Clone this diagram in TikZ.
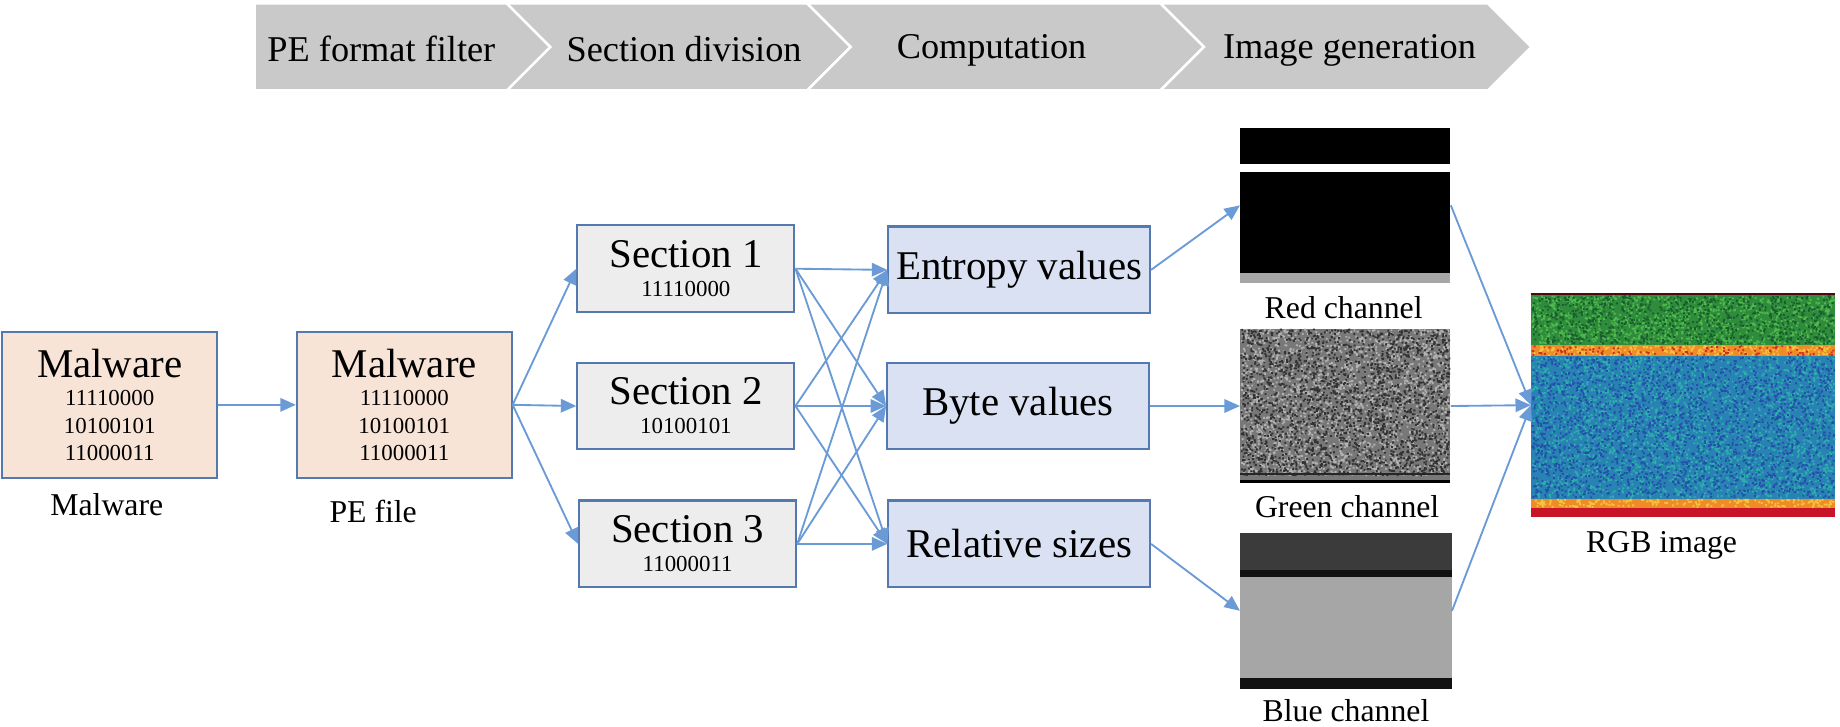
\documentclass[tikz,border=0pt]{standalone}
\usepackage{fontspec}
\setmainfont{Liberation Serif}
\usetikzlibrary{arrows.meta}
\definecolor{linkblue}{RGB}{106,155,214}
\definecolor{edgeblue}{RGB}{84,120,176}
\definecolor{peach}{RGB}{248,228,214}
\definecolor{secgray}{RGB}{237,237,237}
\definecolor{compblue}{RGB}{218,225,243}
\definecolor{chevgray}{RGB}{201,201,201}
\definecolor{noisegray}{RGB}{120,120,120}
\definecolor{rgbgreen}{RGB}{46,140,60}
\definecolor{rgblime}{RGB}{80,185,75}
\definecolor{rgbdkgreen}{RGB}{25,95,45}
\definecolor{rgbblue}{RGB}{40,130,180}
\definecolor{rgbteal}{RGB}{45,175,170}
\definecolor{rgbdkblue}{RGB}{35,80,170}
\definecolor{rgborange}{RGB}{240,140,40}
\definecolor{rgbyellow}{RGB}{245,195,60}
\definecolor{rgbred}{RGB}{200,20,40}
\begin{document}
\begin{tikzpicture}[x=0.2mm, y=-0.2mm,
    stagetext/.style={font=\fontsize{17.6}{20}\selectfont},
    pebox/.style={rectangle, draw=edgeblue, line width=1pt, fill=peach, inner sep=0pt,
        minimum width=36.6mm, minimum height=24.8mm, align=center, font=\fontsize{11.1}{13.3}\selectfont},
    secbox/.style={pebox, fill=secgray, minimum width=37mm, minimum height=14.8mm},
    compbox/.style={rectangle, draw=edgeblue, line width=1pt, fill=compblue, inner sep=0pt,
        minimum width=44.6mm, minimum height=14.8mm, font=\fontsize{19.8}{23}\selectfont},
    imgbox/.style={rectangle, inner sep=0pt},
    caption/.style={font=\fontsize{15.4}{18}\selectfont},
    link/.style={draw=linkblue, line width=0.9pt, -{Triangle[length=7.5pt, width=6.5pt]}}]
    \useasboundingbox (0,0) rectangle (1568,619);
    \pgfmathsetseed{42}

    % stages on top
    \fill[chevgray, draw=white, line width=1.2pt] (217,3) -- (432,3) -- (469,40) -- (432,77) -- (217,77) -- cycle;
    \fill[chevgray, draw=white, line width=1.2pt] (432,3) -- (688,3) -- (725,40) -- (688,77) -- (432,77) -- (469,40) -- cycle;
    \fill[chevgray, draw=white, line width=1.2pt] (688,3) -- (989,3) -- (1026,40) -- (989,77) -- (688,77) -- (725,40) -- cycle;
    \fill[chevgray, draw=white, line width=1.2pt] (989,3) -- (1268,3) -- (1305,40) -- (1268,77) -- (989,77) -- (1026,40) -- cycle;
    \node (stage1) [stagetext] at (325,42) {PE format filter};
    \node (stage2) [stagetext] at (583,42) {Section division};
    \node (stage3) [stagetext] at (845,43) {Computation};
    \node (stage4) [stagetext] at (1150,43) {Image generation};

    % input files
    \node (malware) [pebox] at (93.5,345) {{\fontsize{19.8}{23}\selectfont Malware}\\[0.7pt]11110000\\10100101\\11000011};
    \node (pefile) [pebox] at (344.5,345) {{\fontsize{19.8}{23}\selectfont Malware}\\[0.7pt]11110000\\10100101\\11000011};
    \node (mallabel) [caption] at (91,430) {Malware};
    \node (pelabel) [caption] at (318,436) {PE file};

    % sections
    \node (sec1) [secbox] at (584.5,229) {{\fontsize{19.8}{23}\selectfont Section 1}\\[0.8pt]11110000};
    \node (sec2) [secbox] at (584.5,346) {{\fontsize{19.8}{23}\selectfont Section 2}\\[0.8pt]10100101};
    \node (sec3) [secbox] at (586,463.5) {{\fontsize{19.8}{23}\selectfont Section 3}\\[0.8pt]11000011};

    % computed features
    \node (entropy) [compbox] at (868.5,230) {Entropy values};
    \node (byte) [compbox] at (867.5,346) {Byte values};
    \node (relsize) [compbox] at (868.5,463.5) {Relative sizes};

    % channel images
    \node (redimg) [imgbox, minimum width=35.8mm, minimum height=26.4mm] at (1146.5,175) {};
    \fill[black] (1057,109) rectangle (1236,140);
    \fill[black] (1057,146.6) rectangle (1236,233);
    \fill[black!35] (1057,233) rectangle (1236,241);
    \node (redlabel) [caption] at (1145,262) {Red channel};

    \node (greenimg) [imgbox, minimum width=35.8mm, minimum height=26.4mm] at (1146.5,346) {};
    \fill[noisegray] (1057,280) rectangle (1236,412);
    \fill[black!30] \foreach \k in {1,...,2200} {({1057+177.4*rnd},{280+124.4*rnd}) rectangle ++(1.6,1.6)};
    \fill[black!80] \foreach \k in {1,...,2200} {({1057+177.4*rnd},{280+124.4*rnd}) rectangle ++(1.6,1.6)};
    \fill[black!85] (1057,403) rectangle (1236,404.5);
    \fill[black] (1057,409) rectangle (1236,412);
    \node (greenlabel) [caption] at (1148,432) {Green channel};

    \node (blueimg) [imgbox, minimum width=36mm, minimum height=26.6mm] at (1147,520.5) {};
    \fill[black!77] (1057,454) rectangle (1237,486);
    \fill[black!93] (1057,486) rectangle (1237,492);
    \fill[black!35] (1057,492) rectangle (1237,578);
    \fill[black!93] (1057,578) rectangle (1237,587);
    \node (bluelabel) [caption] at (1147,606) {Blue channel};

    % merged image
    \node (rgbimg) [imgbox, minimum width=51.8mm, minimum height=38.3mm] at (1434.5,345.25) {};
    \fill[rgbred!40!black] (1305,249.5) rectangle (1564,251.5);
    \fill[rgbgreen] (1305,251.5) rectangle (1564,294);
    \fill[rgblime] \foreach \k in {1,...,1100} {({1305+257.4*rnd},{251.5+40.9*rnd}) rectangle ++(1.6,1.6)};
    \fill[rgbdkgreen] \foreach \k in {1,...,900} {({1305+257.4*rnd},{251.5+40.9*rnd}) rectangle ++(1.6,1.6)};
    \fill[rgborange] (1305,294) rectangle (1564,303.5);
    \fill[rgbyellow] \foreach \k in {1,...,250} {({1305+257.4*rnd},{294+8*rnd}) rectangle ++(1.6,1.6)};
    \fill[rgbred!80!rgborange] \foreach \k in {1,...,120} {({1305+257.4*rnd},{294+8*rnd}) rectangle ++(1.6,1.6)};
    \fill[rgbblue] (1305,303.5) rectangle (1564,425);
    \fill[rgbteal] \foreach \k in {1,...,2600} {({1305+257.4*rnd},{303.5+119.9*rnd}) rectangle ++(1.6,1.6)};
    \fill[rgbdkblue] \foreach \k in {1,...,2400} {({1305+257.4*rnd},{303.5+119.9*rnd}) rectangle ++(1.6,1.6)};
    \fill[rgborange] (1305,425) rectangle (1564,433);
    \fill[rgbyellow] \foreach \k in {1,...,200} {({1305+257.4*rnd},{425+6.4*rnd}) rectangle ++(1.6,1.6)};
    \fill[rgbred] (1305,433) rectangle (1564,441);
    \node (rgblabel) [caption] at (1416,465) {RGB image};

    % connectors
    \draw[link] (malware) -- (pefile);
    \draw[link] (pefile.east) -- (sec1.west);
    \draw[link] (pefile.east) -- (sec2.west);
    \draw[link] (pefile.east) -- (sec3.west);
    \foreach \s in {sec1,sec2,sec3}
        \foreach \c in {entropy,byte,relsize}
            \draw[link] (\s.east) -- (\c.west);
    \draw[link] (entropy.east) -- (redimg.west);
    \draw[link] (byte.east) -- (greenimg.west);
    \draw[link] (relsize.east) -- (blueimg.west);
    \draw[link] (redimg.east) -- (rgbimg.west);
    \draw[link] (greenimg.east) -- (rgbimg.west);
    \draw[link] (blueimg.east) -- (rgbimg.west);
\end{tikzpicture}
\end{document}
